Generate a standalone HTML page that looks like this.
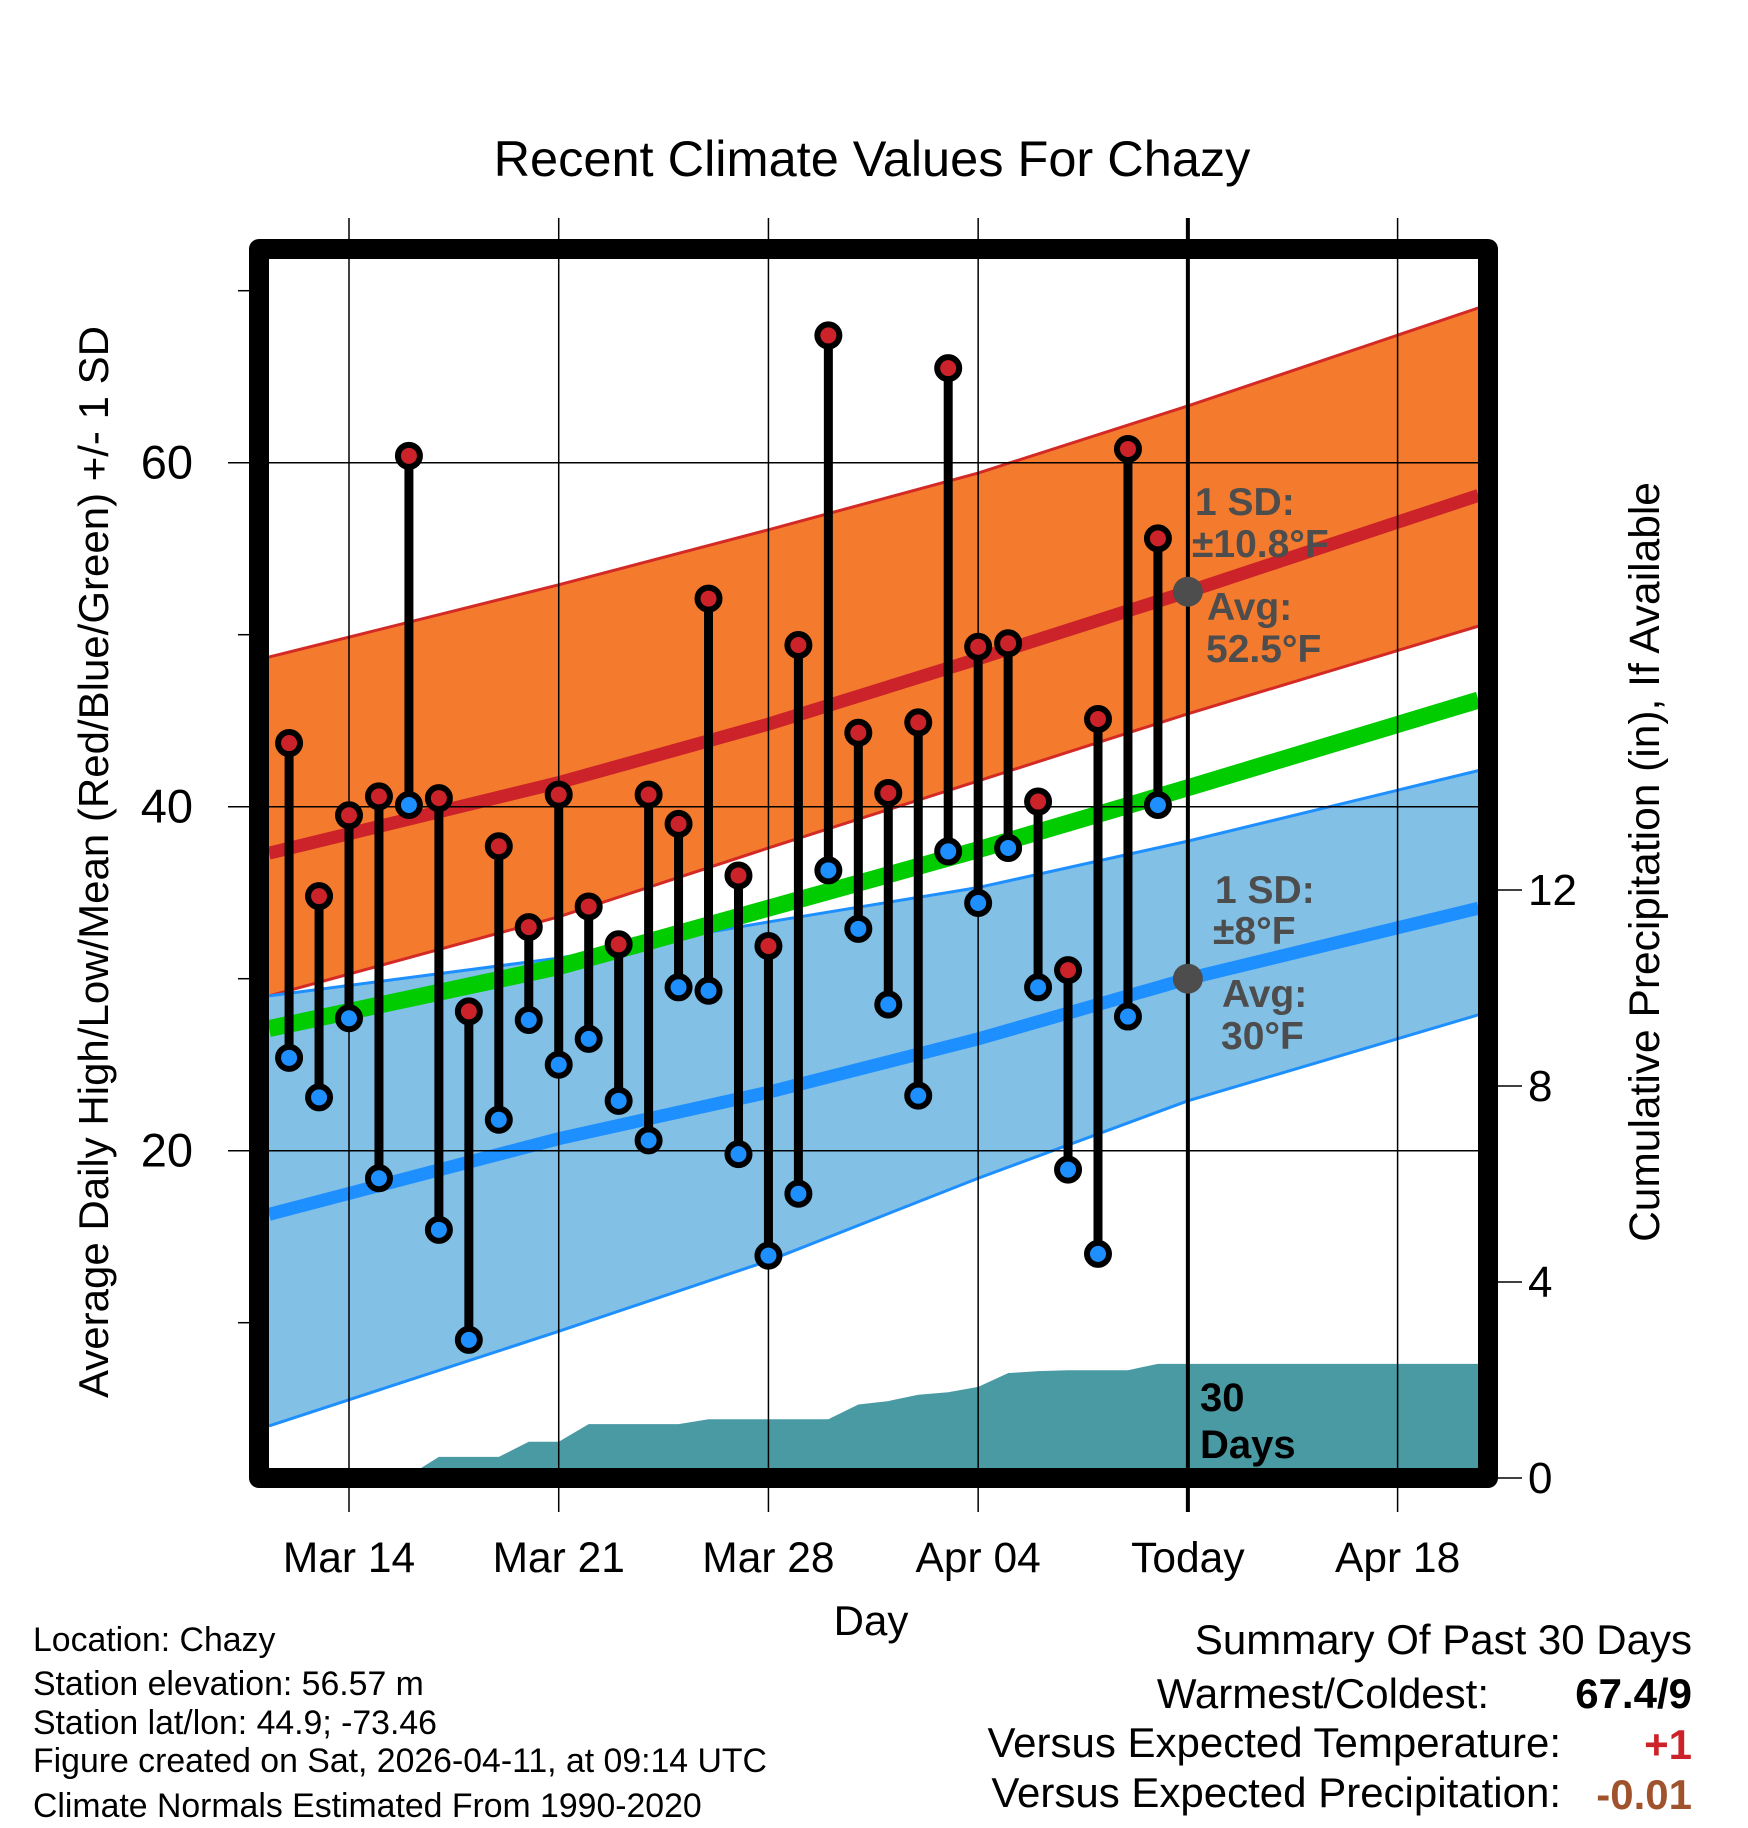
<!DOCTYPE html>
<html><head><meta charset="utf-8"><style>
html,body{margin:0;padding:0;background:#fff;}
svg{display:block;font-family:"Liberation Sans",sans-serif;}
</style></head><body>
<svg id="chart" width="1748" height="1828" viewBox="0 0 1748 1828" xmlns="http://www.w3.org/2000/svg">
<text x="872" y="176" font-size="50.5" text-anchor="middle">Recent Climate Values For Chazy</text>
<g id="plot"></g>
<text transform="translate(108,862) rotate(-90)" font-size="42" text-anchor="middle">Average Daily High/Low/Mean (Red/Blue/Green) +/- 1 SD</text>
<text transform="translate(1659,862) rotate(-90)" font-size="42.5" text-anchor="middle">Cumulative Precipitation (in), If Available</text>
<text x="871" y="1635" font-size="42" text-anchor="middle">Day</text>
<g font-size="33.8">
<text x="33" y="1651">Location: Chazy</text>
<text x="33" y="1695">Station elevation: 56.57 m</text>
<text x="33" y="1734">Station lat/lon: 44.9; -73.46</text>
<text x="33" y="1772">Figure created on Sat, 2026-04-11, at 09:14 UTC</text>
<text x="33" y="1817">Climate Normals Estimated From 1990-2020</text>
</g>
<g font-size="42" text-anchor="end">
<text x="1692" y="1654">Summary Of Past 30 Days</text>
<text x="1489" y="1708">Warmest/Coldest:</text>
<text x="1692" y="1708" font-weight="bold">67.4/9</text>
<text x="1561" y="1757">Versus Expected Temperature:</text>
<text x="1692" y="1759" font-weight="bold" fill="#cc2229">+1</text>
<text x="1561" y="1807">Versus Expected Precipitation:</text>
<text x="1692" y="1809" font-weight="bold" fill="#a0522d">-0.01</text>
</g>
</svg>
<script>
// Data (days relative to Mar 14 = 0)
const obsDays = [-2,-1,0,1,2,3,4,5,6,7,8,9,10,11,12,13,14,15,16,17,18,19,20,21,22,23,24,25,26,27];
const highs = [43.7,34.8,39.5,40.6,60.4,40.5,28.1,37.7,33.0,40.7,34.2,32.0,40.7,39.0,52.1,36.0,31.9,49.4,67.4,44.3,40.8,44.9,65.5,49.3,49.5,40.3,30.5,45.1,60.8,55.6];
const lows = [25.4,23.1,27.7,18.4,40.1,15.4,9.0,21.8,27.6,25.0,26.5,22.9,20.6,29.5,29.3,19.8,13.9,17.5,36.3,32.9,28.5,23.2,37.4,34.4,37.6,29.5,18.9,14.0,27.8,40.1];
const precipCum = [0,0,0,0,0.05,0.43,0.43,0.43,0.74,0.74,1.1,1.1,1.1,1.1,1.2,1.2,1.2,1.2,1.2,1.5,1.57,1.7,1.75,1.86,2.14,2.18,2.2,2.2,2.2,2.33];
const normDays = [-2.67,7,14,21,28,37.7];
const highUpper = [48.7,52.9,56.1,59.4,63.3,69.0];
const highMean = [37.3,41.4,44.8,48.6,52.5,58.1];
const highLower = [29.0,33.6,37.6,41.5,45.4,50.5];
const lowUpper = [29.0,31.2,33.3,35.3,38.0,42.1];
const lowMean = [16.3,20.7,23.4,26.5,30.0,34.1];
const lowLower = [4.0,9.5,13.6,18.4,22.9,27.9];
const avgMean = [27.1,30.7,34.1,37.5,41.1,46.2];
const xTickDays = [0,7,14,21,28,35];
const xTickLabels = ["Mar 14","Mar 21","Mar 28","Apr 04","Today","Apr 18"];
const yTicks = [10,20,30,40,50,60,70];
const yTickLabels = ["","20","","40","","60",""];
const pTicks = [0,4,8,12];

const NS="http://www.w3.org/2000/svg";
const L=269,R=1478,T=259,B=1468;
const xs=d=>349+29.96*d;
const ys=t=>1494.7-17.2*t;
const yp=p=>1478-49*p;
const g=document.getElementById('plot');
function el(tag,attrs,parent){const e=document.createElementNS(NS,tag);for(const k in attrs)e.setAttribute(k,attrs[k]);(parent||g).appendChild(e);return e;}
const clip=el('clipPath',{id:'c'});el('rect',{x:L,y:T,width:R-L,height:B-T},clip);
const inner=el('g',{'clip-path':'url(#c)'});
function pts(days,vals){return days.map((d,i)=>xs(d)+','+ys(vals[i]));}
function band(up,lo,fill,stroke,name){
  const p=pts(normDays,up).concat(pts(normDays,lo).reverse());
  const e=el('polygon',{points:p.join(' '),fill:fill},inner);
  
  
  const a=el('polyline',{points:pts(normDays,up).join(' '),fill:'none',stroke:stroke,'stroke-width':3},inner);
  
  
  const b=el('polyline',{points:pts(normDays,lo).join(' '),fill:'none',stroke:stroke,'stroke-width':3},inner);
  
  
}
band(highUpper,highLower,'#f47b2e','#d42a25','high-sd-band');
band(lowUpper,lowLower,'#82c0e6','#1e8fff','low-sd-band');
function line(vals,color,w,name){
  const e=el('polyline',{points:pts(normDays,vals).join(' '),fill:'none',stroke:color,'stroke-width':w},inner);
  
  
}
line(highMean,'#cc2229',13,'normal-high-line');
line(lowMean,'#1e8fff',13,'normal-low-line');
line(avgMean,'#00cc00',17,'normal-mean-line');
{
  let p=[xs(obsDays[0])+','+yp(0)];
  obsDays.forEach((d,i)=>p.push(xs(d)+','+yp(precipCum[i])));
  p.push(R+','+yp(precipCum[precipCum.length-1]));
  p.push(R+','+B);p.push(xs(obsDays[0])+','+B);
  const e=el('polygon',{points:p.join(' '),fill:'#4a9aa4'},inner);
  
  
}
yTicks.forEach((t,i)=>{
  if(yTickLabels[i]){
    const e=el('line',{x1:L,x2:R,y1:ys(t),y2:ys(t),stroke:'#000','stroke-width':1.5});
    
    
    const lb=el('text',{x:193,y:ys(t)+16,'font-size':47,'text-anchor':'end'});
    lb.textContent=yTickLabels[i];
    
    
  }
  const tk=el('line',{x1:yTickLabels[i]?228:238,x2:250,y1:ys(t),y2:ys(t),stroke:'#000','stroke-width':1.5});
  
  
});
xTickDays.forEach((d,i)=>{
  const today=xTickLabels[i]==='Today';
  const e=el('line',{x1:xs(d),x2:xs(d),y1:218,y2:1512,stroke:'#000','stroke-width':today?4:1.5});
  
  
  const lb=el('text',{x:xs(d),y:1572,'font-size':42.5,'text-anchor':'middle'});
  lb.textContent=xTickLabels[i];
  
  
});
pTicks.forEach(p=>{
  const tk=el('line',{x1:1498,x2:1522,y1:yp(p),y2:yp(p),stroke:'#000','stroke-width':1.5});
  
  
  const lb=el('text',{x:1528,y:yp(p)+15,'font-size':44});
  lb.textContent=String(p);
  
  
});
obsDays.forEach((d,i)=>{
  const x=xs(d);
  const s=el('line',{x1:x,x2:x,y1:ys(highs[i]),y2:ys(lows[i]),stroke:'#000','stroke-width':9});
  
  
  const h=el('circle',{cx:x,cy:ys(highs[i]),r:11,fill:'#cc2229',stroke:'#000','stroke-width':6});
  
  
  const lo=el('circle',{cx:x,cy:ys(lows[i]),r:11,fill:'#1e8fff',stroke:'#000','stroke-width':6});
  
  
});
const tx=xs(28);
[[highMean[4],'avg-high-marker'],[lowMean[4],'avg-low-marker']].forEach(a=>{
  const c=el('circle',{cx:tx,cy:ys(a[0]),r:15,fill:'#4d4d4d'});
  
  
});
function ann(x,y,txt,name){
  const t=el('text',{x:x,y:y,'font-size':39,'font-weight':'bold',fill:'#4d4d4d'});
  t.textContent=txt;
  
  
}
ann(1195,515,'1 SD:','high-sd-label');
ann(1192,557,'±10.8°F','high-sd-value');
ann(1207,620,'Avg:','high-avg-label');
ann(1206,662,'52.5°F','high-avg-value');
ann(1215,903,'1 SD:','low-sd-label');
ann(1213,944,'±8°F','low-sd-value');
ann(1222,1007,'Avg:','low-avg-label');
ann(1221,1049,'30°F','low-avg-value');
{
  const t1=el('text',{x:1200,y:1411,'font-size':40,'font-weight':'bold'});t1.textContent='30';
  
  
  const t2=el('text',{x:1200,y:1458,'font-size':40,'font-weight':'bold'});t2.textContent='Days';
  
  
}
const fr=el('rect',{x:259,y:249,width:1229,height:1229,fill:'none',stroke:'#000','stroke-width':20,'stroke-linejoin':'round'});


</script>
</body></html>
